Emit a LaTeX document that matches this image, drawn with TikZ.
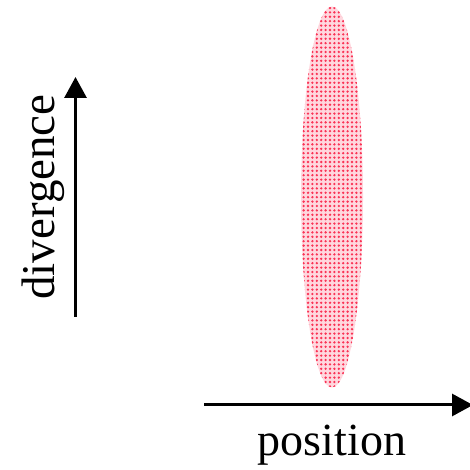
\documentclass[tikz,border=0pt]{standalone}
\usepackage{fontspec}
\setmainfont{Liberation Serif}
\usetikzlibrary{patterns.meta,arrows.meta,shapes.geometric}
\definecolor{dotred}{RGB}{250,50,85}
\definecolor{dotpink}{RGB}{255,215,222}
\begin{document}
\begin{tikzpicture}[x=1pt,y=1pt,
  axis/.style={line width=3pt,-{Triangle[length=21pt,width=22pt]}},
  lbl/.style={inner sep=0pt,font=\fontsize{46}{50}\selectfont},
  beamstyle/.style={ellipse, minimum width=62pt, minimum height=381pt, inner sep=0pt}]
\useasboundingbox (0,0) rectangle (469,470);
\node[beamstyle, fill=dotpink] (beamfill) at (332,273) {};
\node[beamstyle, pattern={Dots[distance=4.4pt,radius=1.3pt]}, pattern color=dotred]
  (beam) at (332,273) {};
\coordinate (hx0) at (204,65);
\coordinate (hx1) at (473,65);
\coordinate (vy0) at (75.5,153);
\coordinate (vy1) at (75.5,393);
\draw[axis] (hx0) -- (hx1);
\draw[axis] (vy0) -- (vy1);
\node[lbl, anchor=base] (pos) at (332,14) {position};
\node[lbl, anchor=base, rotate=90, font=\fontsize{47}{51}\selectfont] (div) at (54,273) {divergence};
\end{tikzpicture}
\end{document}
